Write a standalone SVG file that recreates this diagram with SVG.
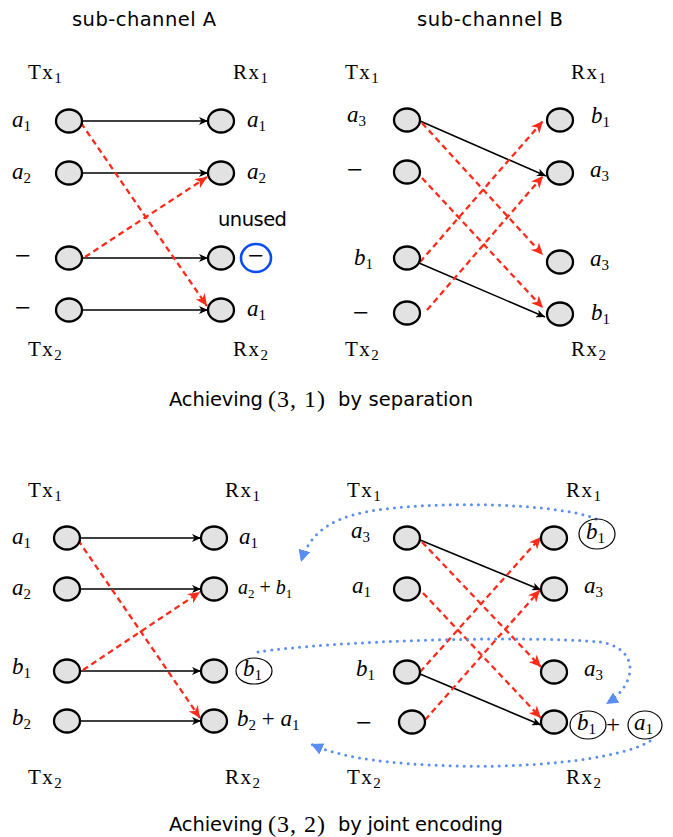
<svg xmlns="http://www.w3.org/2000/svg" width="673" height="837" viewBox="0 0 673 837">
<style>
.bg{fill:#fff}
.n{fill:#e2e2e2;stroke:#000;stroke-width:2.3}
.s{font-family:"DejaVu Sans","Liberation Sans",sans-serif;font-size:19.5px;fill:#000}
.r{font-family:"Liberation Serif","DejaVu Serif",serif;font-size:21px;fill:#000}
.cap{font-family:"Liberation Serif","DejaVu Serif",serif;font-size:24px;letter-spacing:1px;fill:#000}
.tx{font-family:"Liberation Serif","DejaVu Serif",serif;font-size:21px;letter-spacing:1.5px;fill:#000}
.mi{font-family:"Liberation Serif","DejaVu Serif",serif;font-size:28px;fill:#000}
.m{font-family:"Liberation Serif","DejaVu Serif",serif;font-size:23px;font-style:italic;fill:#000}
.sub{font-size:15px;font-style:normal;letter-spacing:0}
.blk{stroke:#000;stroke-width:1.6;fill:none;marker-end:url(#ab)}
.red{stroke:#ff2a1a;stroke-width:2.3;stroke-dasharray:6 4;fill:none;marker-end:url(#ar)}
.fb{stroke:#5b8ef5;stroke-width:3;stroke-dasharray:0 7;stroke-linecap:round;fill:none;marker-end:url(#af)}
.circ{fill:none;stroke:#000;stroke-width:1.2}
</style>
<defs>
<marker id="ab" markerUnits="userSpaceOnUse" markerWidth="10" markerHeight="8" refX="9" refY="4" orient="auto"><path d="M0,0 L9,4 L0,8 L2.5,4 z" fill="#000"/></marker>
<marker id="ar" markerUnits="userSpaceOnUse" markerWidth="13" markerHeight="11" refX="12" refY="5.5" orient="auto"><path d="M0,0 L12,5.5 L0,11 L3.5,5.5 z" fill="#ff2a1a"/></marker>
<marker id="af" markerUnits="userSpaceOnUse" markerWidth="14" markerHeight="12" refX="12" refY="6" orient="auto"><path d="M0,0 L12,6 L0,12 z" fill="#5b8ef5"/></marker>
</defs>
<rect class="bg" x="0" y="0" width="673" height="837"/>

<g id="connectors">
<line class="blk" x1="82" y1="121" x2="208" y2="121"/>
<line class="blk" x1="82" y1="173" x2="208" y2="173"/>
<line class="blk" x1="82" y1="258" x2="208" y2="258"/>
<line class="blk" x1="82" y1="310" x2="208" y2="310"/>
<line class="red" x1="81" y1="123" x2="207" y2="306"/>
<line class="red" x1="85" y1="257" x2="207" y2="177"/>
<line class="blk" x1="420" y1="121" x2="546" y2="176"/>
<line class="blk" x1="419" y1="263" x2="545" y2="317"/>
<line class="red" x1="422" y1="123" x2="543" y2="255"/>
<line class="red" x1="422" y1="178" x2="543" y2="308"/>
<line class="red" x1="420" y1="262" x2="543" y2="121"/>
<line class="red" x1="427" y1="310" x2="543" y2="176"/>
<line class="blk" x1="80" y1="538" x2="201" y2="538"/>
<line class="blk" x1="80" y1="589" x2="201" y2="589"/>
<line class="blk" x1="80" y1="671" x2="201" y2="671"/>
<line class="blk" x1="80" y1="721" x2="201" y2="721"/>
<line class="red" x1="78" y1="540" x2="200" y2="718"/>
<line class="red" x1="83" y1="670" x2="200" y2="592"/>
<line class="blk" x1="420" y1="540" x2="541" y2="590"/>
<line class="blk" x1="420" y1="674" x2="541" y2="725"/>
<line class="red" x1="422" y1="542" x2="541" y2="667"/>
<line class="red" x1="423" y1="593" x2="541" y2="718"/>
<line class="red" x1="420" y1="672" x2="541" y2="537"/>
<line class="red" x1="425" y1="720" x2="540" y2="590"/>
<path class="fb" d="M596,519 C560,503 430,500 365,512 C325,520 308,538 301,562"/>
<path class="fb" d="M258,652 C330,641 520,635 600,642 C640,648 638,684 606,704"/>
<path class="fb" d="M650,741 C620,760 520,770 430,765 C370,762 335,755 311,744"/>
</g>

<g id="titles">
<text class="s" x="72" y="26" textLength="144" lengthAdjust="spacing">sub-channel A</text>
<text class="s" x="417" y="26" textLength="146" lengthAdjust="spacing">sub-channel B</text>
<text class="s" x="169" y="406" textLength="94" lengthAdjust="spacing">Achieving</text>
<text class="cap" x="268" y="407">(3, 1)</text>
<text class="s" x="338" y="406" textLength="135" lengthAdjust="spacing">by separation</text>
<text class="s" x="169" y="831" textLength="94" lengthAdjust="spacing">Achieving</text>
<text class="cap" x="268" y="832">(3, 2)</text>
<text class="s" x="338" y="831" textLength="165" lengthAdjust="spacing">by joint encoding</text>
</g>

<g id="tx-rx-labels">
<text class="tx" x="28" y="79">Tx<tspan class="sub" dy="4">1</tspan></text>
<text class="tx" x="233" y="79">Rx<tspan class="sub" dy="4">1</tspan></text>
<text class="tx" x="28" y="356">Tx<tspan class="sub" dy="4">2</tspan></text>
<text class="tx" x="233" y="356">Rx<tspan class="sub" dy="4">2</tspan></text>
<text class="tx" x="345" y="79">Tx<tspan class="sub" dy="4">1</tspan></text>
<text class="tx" x="571" y="79">Rx<tspan class="sub" dy="4">1</tspan></text>
<text class="tx" x="345" y="356">Tx<tspan class="sub" dy="4">2</tspan></text>
<text class="tx" x="571" y="356">Rx<tspan class="sub" dy="4">2</tspan></text>
<text class="tx" x="28" y="497">Tx<tspan class="sub" dy="4">1</tspan></text>
<text class="tx" x="225" y="497">Rx<tspan class="sub" dy="4">1</tspan></text>
<text class="tx" x="28" y="784">Tx<tspan class="sub" dy="4">2</tspan></text>
<text class="tx" x="225" y="784">Rx<tspan class="sub" dy="4">2</tspan></text>
<text class="tx" x="347" y="497">Tx<tspan class="sub" dy="4">1</tspan></text>
<text class="tx" x="566" y="497">Rx<tspan class="sub" dy="4">1</tspan></text>
<text class="tx" x="347" y="784">Tx<tspan class="sub" dy="4">2</tspan></text>
<text class="tx" x="566" y="784">Rx<tspan class="sub" dy="4">2</tspan></text>
</g>

<g id="A-tx1"><ellipse class="n" cx="69" cy="121" rx="13" ry="11.5"/><text class="m" x="12" y="127">a<tspan class="sub" dy="4">1</tspan></text></g>
<g id="A-tx2"><ellipse class="n" cx="69" cy="173" rx="13" ry="11.5"/><text class="m" x="12" y="179">a<tspan class="sub" dy="4">2</tspan></text></g>
<g id="A-tx3"><ellipse class="n" cx="69" cy="258" rx="13" ry="11.5"/><text class="mi" x="15" y="265">−</text></g>
<g id="A-tx4"><ellipse class="n" cx="69" cy="310" rx="13" ry="11.5"/><text class="mi" x="15" y="317">−</text></g>
<g id="A-rx1"><ellipse class="n" cx="221" cy="121" rx="13" ry="11.5"/><text class="m" x="247" y="127">a<tspan class="sub" dy="4">1</tspan></text></g>
<g id="A-rx2"><ellipse class="n" cx="221" cy="173" rx="13" ry="11.5"/><text class="m" x="247" y="179">a<tspan class="sub" dy="4">2</tspan></text></g>
<g id="A-rx3"><ellipse class="n" cx="221" cy="258" rx="13" ry="11.5"/><text class="s" x="218" y="226" textLength="69" lengthAdjust="spacing">unused</text><ellipse cx="256" cy="258" rx="15" ry="14" fill="none" stroke="#0a4cf5" stroke-width="2.6"/><text class="mi" x="248" y="265">−</text></g>
<g id="A-rx4"><ellipse class="n" cx="221" cy="310" rx="13" ry="11.5"/><text class="m" x="247" y="316">a<tspan class="sub" dy="4">1</tspan></text></g>

<g id="B-tx1"><ellipse class="n" cx="407" cy="120" rx="13" ry="11.5"/><text class="m" x="347" y="122">a<tspan class="sub" dy="4">3</tspan></text></g>
<g id="B-tx2"><ellipse class="n" cx="407" cy="172" rx="13" ry="11.5"/><text class="mi" x="347" y="179">−</text></g>
<g id="B-tx3"><ellipse class="n" cx="407" cy="258" rx="13" ry="11.5"/><text class="m" x="354" y="265">b<tspan class="sub" dy="4">1</tspan></text></g>
<g id="B-tx4"><ellipse class="n" cx="407" cy="313" rx="13" ry="11.5"/><text class="mi" x="353" y="322">−</text></g>
<g id="B-rx1"><ellipse class="n" cx="560" cy="120" rx="13" ry="11.5"/><text class="m" x="591" y="123">b<tspan class="sub" dy="4">1</tspan></text></g>
<g id="B-rx2"><ellipse class="n" cx="560" cy="173" rx="13" ry="11.5"/><text class="m" x="590" y="177">a<tspan class="sub" dy="4">3</tspan></text></g>
<g id="B-rx3"><ellipse class="n" cx="560" cy="262" rx="13" ry="11.5"/><text class="m" x="590" y="266">a<tspan class="sub" dy="4">3</tspan></text></g>
<g id="B-rx4"><ellipse class="n" cx="560" cy="314" rx="13" ry="11.5"/><text class="m" x="591" y="320">b<tspan class="sub" dy="4">1</tspan></text></g>

<g id="C-tx1"><ellipse class="n" cx="67" cy="538" rx="13" ry="11.5"/><text class="m" x="12" y="544">a<tspan class="sub" dy="4">1</tspan></text></g>
<g id="C-tx2"><ellipse class="n" cx="67" cy="589" rx="13" ry="11.5"/><text class="m" x="12" y="595">a<tspan class="sub" dy="4">2</tspan></text></g>
<g id="C-tx3"><ellipse class="n" cx="67" cy="671" rx="13" ry="11.5"/><text class="m" x="12" y="674">b<tspan class="sub" dy="4">1</tspan></text></g>
<g id="C-tx4"><ellipse class="n" cx="67" cy="721" rx="13" ry="11.5"/><text class="m" x="12" y="725">b<tspan class="sub" dy="4">2</tspan></text></g>
<g id="C-rx1"><ellipse class="n" cx="214" cy="538" rx="13" ry="11.5"/><text class="m" x="239" y="544">a<tspan class="sub" dy="4">1</tspan></text></g>
<g id="C-rx2"><ellipse class="n" cx="214" cy="589" rx="13" ry="11.5"/><text class="m" x="238" y="594" style="font-size:20px">a<tspan class="sub" dy="4" style="font-size:13px">2</tspan><tspan dy="-4" font-style="normal"> + </tspan>b<tspan class="sub" dy="4" style="font-size:13px">1</tspan></text></g>
<g id="C-rx3"><ellipse class="n" cx="214" cy="671" rx="13" ry="11.5"/><ellipse class="circ" cx="254" cy="671" rx="18" ry="13"/><text class="m" x="243" y="676">b<tspan class="sub" dy="4">1</tspan></text></g>
<g id="C-rx4"><ellipse class="n" cx="214" cy="721" rx="13" ry="11.5"/><text class="m" x="237" y="726">b<tspan class="sub" dy="4">2</tspan><tspan dy="-4" font-style="normal"> + </tspan>a<tspan class="sub" dy="4">1</tspan></text></g>

<g id="D-tx1"><ellipse class="n" cx="407" cy="538" rx="13" ry="11.5"/><text class="m" x="351" y="538">a<tspan class="sub" dy="4">3</tspan></text></g>
<g id="D-tx2"><ellipse class="n" cx="407" cy="589" rx="13" ry="11.5"/><text class="m" x="352" y="593">a<tspan class="sub" dy="4">1</tspan></text></g>
<g id="D-tx3"><ellipse class="n" cx="407" cy="672" rx="13" ry="11.5"/><text class="m" x="356" y="676">b<tspan class="sub" dy="4">1</tspan></text></g>
<g id="D-tx4"><ellipse class="n" cx="412" cy="722" rx="13" ry="11.5"/><text class="mi" x="356" y="732">−</text></g>
<g id="D-rx1"><ellipse class="n" cx="554" cy="538" rx="13" ry="11.5"/><ellipse class="circ" cx="597" cy="534" rx="18" ry="15"/><text class="m" x="586" y="539">b<tspan class="sub" dy="4">1</tspan></text></g>
<g id="D-rx2"><ellipse class="n" cx="554" cy="589" rx="13" ry="11.5"/><text class="m" x="584" y="593">a<tspan class="sub" dy="4">3</tspan></text></g>
<g id="D-rx3"><ellipse class="n" cx="554" cy="672" rx="13" ry="11.5"/><text class="m" x="584" y="676">a<tspan class="sub" dy="4">3</tspan></text></g>
<g id="D-rx4"><ellipse class="n" cx="554" cy="722" rx="13" ry="11.5"/><ellipse class="circ" cx="588" cy="725" rx="18" ry="14"/><text class="m" x="577" y="730">b<tspan class="sub" dy="4">1</tspan></text><text class="r" x="606" y="733" style="font-size:25px">+</text><ellipse class="circ" cx="645" cy="725" rx="17" ry="14"/><text class="m" x="634" y="730">a<tspan class="sub" dy="4">1</tspan></text></g>
</svg>
